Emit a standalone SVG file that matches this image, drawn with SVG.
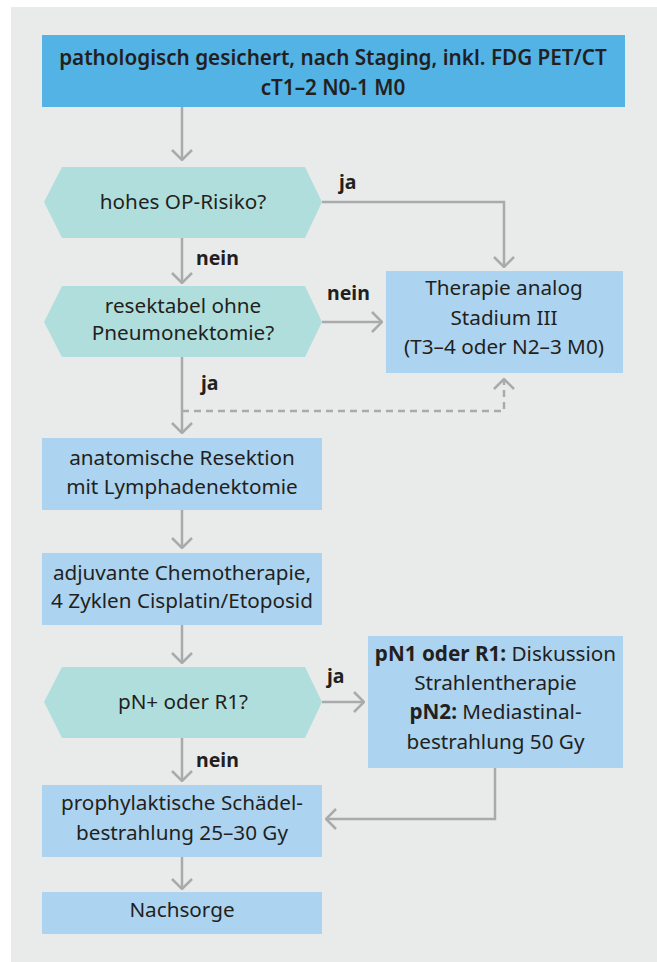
<svg xmlns="http://www.w3.org/2000/svg" width="657" height="962" viewBox="0 0 657 962">
  <style>
    .panel { fill: #e9ebea; }
    .head { fill: #53b3e5; }
    .box { fill: #acd4f0; }
    .dec { fill: #b0dedc; }
    .t { font-family: "Noto Sans", "Open Sans", sans-serif; font-size: 20.7px; fill: #231f20; text-anchor: middle; }
    .h { font-weight: 600; }
    .b { font-weight: bold; }
    .lbl { font-family: "Noto Sans", "Open Sans", sans-serif; font-size: 19.5px; font-weight: bold; fill: #231f20; }
    .ln { fill: none; stroke: #a9aaab; stroke-width: 2.5; }
    .dash { stroke-dasharray: 7 5; }
  </style>
  <defs>
    <marker id="arr" viewBox="0 0 12 22" refX="11" refY="11" markerWidth="12" markerHeight="22" markerUnits="userSpaceOnUse" orient="auto">
      <path d="M1,1 L11,11 L1,21" fill="none" stroke="#a9aaab" stroke-width="2.5"/>
    </marker>
  </defs>

  <rect class="panel" x="11" y="7" width="646" height="955"/>

  <g id="connectors">
    <path class="ln" d="M182,107 V160" marker-end="url(#arr)"/>
    <path class="ln" d="M322,202 H504 V267" marker-end="url(#arr)"/>
    <path class="ln" d="M182,238 V283" marker-end="url(#arr)"/>
    <path class="ln" d="M322,322 H382" marker-end="url(#arr)"/>
    <path class="ln" d="M182,357 V433" marker-end="url(#arr)"/>
    <path class="ln dash" d="M182,411 H504 V379" marker-end="url(#arr)"/>
    <path class="ln" d="M182,510 V548" marker-end="url(#arr)"/>
    <path class="ln" d="M182,625 V663" marker-end="url(#arr)"/>
    <path class="ln" d="M322,702 H364" marker-end="url(#arr)"/>
    <path class="ln" d="M182,738 V781" marker-end="url(#arr)"/>
    <path class="ln" d="M495,768 V819 H326" marker-end="url(#arr)"/>
    <path class="ln" d="M182,857 V889" marker-end="url(#arr)"/>
    <text class="lbl" x="339" y="189">ja</text>
    <text class="lbl" x="196" y="265">nein</text>
    <text class="lbl" x="327" y="300">nein</text>
    <text class="lbl" x="201" y="390">ja</text>
    <text class="lbl" x="327" y="683">ja</text>
    <text class="lbl" x="196" y="767">nein</text>
  </g>

  <g id="start">
    <rect class="head" x="42" y="35" width="583" height="72"/>
    <text class="t h" x="333" y="65">pathologisch gesichert, nach Staging, inkl. FDG PET/CT</text>
    <text class="t h" x="333" y="95">cT1–2 N0-1 M0</text>
  </g>

  <g id="op-risiko">
    <polygon class="dec" points="44,202 62,167 305,167 322,202 305,238 62,238"/>
    <text class="t" x="183" y="209">hohes OP-Risiko?</text>
  </g>

  <g id="resektabel">
    <polygon class="dec" points="44,322 62,286 305,286 322,322 305,357 62,357"/>
    <text class="t" x="183" y="313">resektabel ohne</text>
    <text class="t" x="183" y="340">Pneumonektomie?</text>
  </g>

  <g id="stadium3">
    <rect class="box" x="386" y="271" width="237" height="102"/>
    <text class="t" x="504" y="295">Therapie analog</text>
    <text class="t" x="504" y="325">Stadium III</text>
    <text class="t" x="504" y="354">(T3–4 oder N2–3 M0)</text>
  </g>

  <g id="resektion">
    <rect class="box" x="42" y="438" width="280" height="72"/>
    <text class="t" x="182" y="465">anatomische Resektion</text>
    <text class="t" x="182" y="494">mit Lymphadenektomie</text>
  </g>

  <g id="chemo">
    <rect class="box" x="42" y="553" width="280" height="72"/>
    <text class="t" x="182" y="580">adjuvante Chemotherapie,</text>
    <text class="t" x="182" y="608">4 Zyklen Cisplatin/Etoposid</text>
  </g>

  <g id="pn-r1">
    <polygon class="dec" points="44,702 62,667 305,667 322,702 305,738 62,738"/>
    <text class="t" x="183" y="709">pN+ oder R1?</text>
  </g>

  <g id="strahlen">
    <rect class="box" x="368" y="636" width="255" height="132"/>
    <text class="t" x="495.5" y="661"><tspan class="b">pN1 oder R1:</tspan> Diskussion</text>
    <text class="t" x="495.5" y="690">Strahlentherapie</text>
    <text class="t" x="495.5" y="719"><tspan class="b">pN2:</tspan> Mediastinal-</text>
    <text class="t" x="495.5" y="749">bestrahlung 50 Gy</text>
  </g>

  <g id="schaedel">
    <rect class="box" x="42" y="785" width="280" height="72"/>
    <text class="t" x="182" y="810">prophylaktische Schädel-</text>
    <text class="t" x="182" y="840">bestrahlung 25–30 Gy</text>
  </g>

  <g id="nachsorge">
    <rect class="box" x="42" y="892" width="280" height="42"/>
    <text class="t" x="182" y="917">Nachsorge</text>
  </g>
</svg>
